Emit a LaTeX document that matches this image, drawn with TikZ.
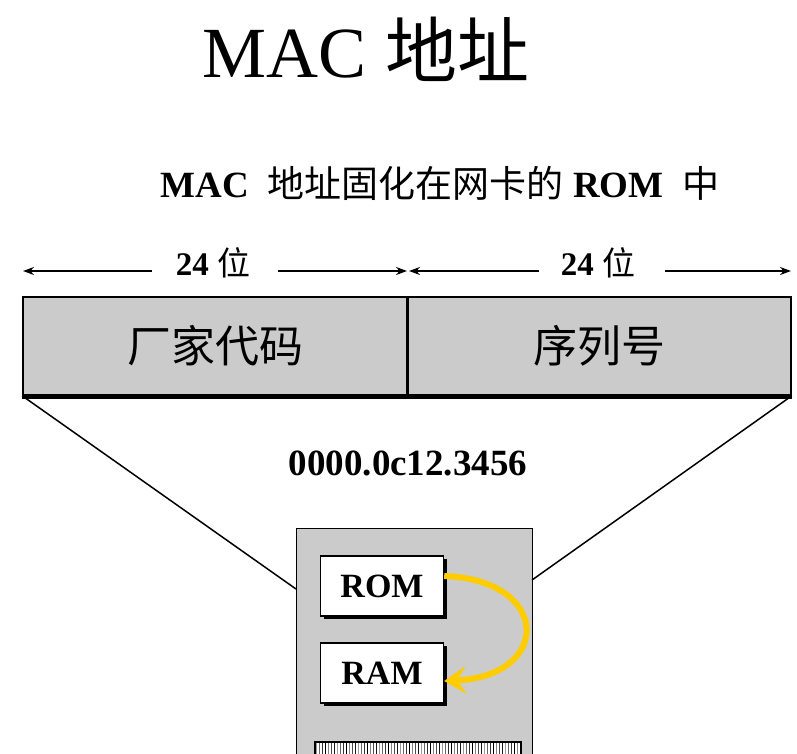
\documentclass[tikz,border=0pt]{standalone}
\usepackage{fontspec}
\setmainfont{Liberation Serif}
\newfontfamily\cjk{Noto Sans CJK SC}
\usetikzlibrary{arrows.meta,shadows}
\definecolor{cardgray}{RGB}{203,203,203}
\definecolor{memyellow}{RGB}{255,204,0}
\tikzset{
  field/.style={draw, line width=1.6pt, fill=cardgray, minimum width=384pt, minimum height=98pt, inner sep=0pt},
  memory/.style={draw, line width=1.4pt, fill=white, minimum width=123pt, minimum height=60pt, inner sep=0pt,
    font=\fontsize{34}{36}\selectfont\bfseries,
    drop shadow={shadow xshift=3pt, shadow yshift=-3pt, fill=black, opacity=1}},
  bits/.style={inner xsep=0pt, font=\fontsize{33}{35}\selectfont\bfseries},
  span/.style={line width=2.2pt, -{Stealth[length=11pt,width=8pt]}},
  memarrow/.style={draw=memyellow, line width=6pt, -{Stealth[length=22pt,width=28pt,inset=9pt]}}
}
\begin{document}
\begin{tikzpicture}[x=1pt, y=-1pt]
  \useasboundingbox (0,0) rectangle (797,754);

  % Titel
  \node (title) at (366,49) {\fontsize{72}{78}\selectfont MAC {\cjk 地址}};
  \node (sub) at (440,183) {\fontsize{37}{39}\selectfont\bfseries MAC \ {\cjk\mdseries 地址固化在网卡的} ROM \ {\cjk\mdseries 中}};

  % Felder
  \node[field] (vendor) at (215,346) {\fontsize{44}{46}\selectfont\cjk 厂家代码};
  \node[field] (serial) at (599,346) {\fontsize{44}{46}\selectfont\cjk 序列号};
  \draw[line width=3pt] (vendor.north east) -- (vendor.south east);
  \draw[line width=4pt] ([yshift=-1pt]vendor.south west) -- ([yshift=-1pt]serial.south east);

  % Bitbreiten
  \coordinate (l) at (23,271);
  \coordinate (m) at (407,271);
  \coordinate (r) at (791,271);
  \node[bits] (bitsA) at (213,263) {24 {\cjk\mdseries 位}};
  \node[bits] (bitsB) at (598,263) {24 {\cjk\mdseries 位}};
  \draw[span] (l -| bitsA.west) ++(-24,0) -- (l);
  \draw[span] (m -| bitsA.east) ++(28,0) -- (m);
  \draw[span] (m -| bitsB.west) ++(-22,0) -- ([xshift=2pt]m);
  \draw[span] (r -| bitsB.east) ++(30,0) -- (r);

  % Adresse
  \node (addr) at (408,463) {\fontsize{37}{39}\selectfont\bfseries 0000.0c12.3456};

  % Netzwerkkarte
  \node[draw, line width=1.4pt, fill=cardgray, minimum width=236pt, minimum height=232pt, inner sep=0pt, anchor=north west] (card) at (296,528) {};
  \coordinate (cl) at (296,589);
  \coordinate (cr) at (532,580);
  \draw[line width=1.5pt] (vendor.south west) -- (cl);
  \draw[line width=1.5pt] (serial.south east) -- (cr);

  \node[memory] (rom) at (382,586) {ROM};
  \node[memory] (ram) at (382,673) {RAM};
  \draw[memarrow] ([yshift=10pt]rom.east) .. controls (552,580) and (552,676) .. ([yshift=-8pt]ram.east);

  % Steckerleiste
  \node[draw, line width=1.5pt, fill=white, minimum width=206pt, minimum height=20pt, inner sep=0pt, anchor=north west] (pins) at (314,741) {};
  \foreach \i in {0,...,67} {
    \pgfmathsetmacro\g{40+mod(\i*37,7)*10}
    \draw[black!\g, line width=1.4pt] (316.5+3*\i,743) -- (316.5+3*\i,756);
  }
\end{tikzpicture}
\end{document}
